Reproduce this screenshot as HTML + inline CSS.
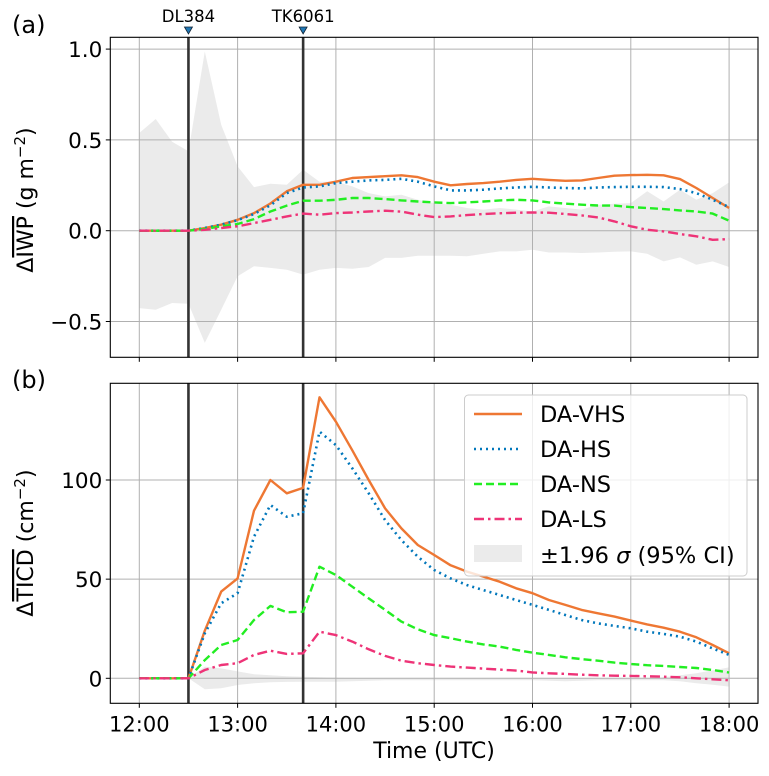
<!DOCTYPE html>
<html><head><meta charset="utf-8"><style>
html,body{margin:0;padding:0;background:#fff;}
svg text{font-family:"DejaVu Sans","Liberation Sans",sans-serif;fill:#000;}
</style></head><body>
<svg id="chart" width="769" height="771" viewBox="0 0 769 771" xmlns="http://www.w3.org/2000/svg"></svg>
<script>
const timesMin = [0,10,20,30,40,50,60,70,80,90,100,110,120,130,140,150,160,170,180,190,200,210,220,230,240,250,260,270,280,290,300,310,320,330,340,350,360];
const xTickLabels = ["12:00","13:00","14:00","15:00","16:00","17:00","18:00"];
const xTickMins = [0,60,120,180,240,300,360];
const flightNames = ["DL384","TK6061"];
const flightMins = [30,100];

const iwpVHS = [0,0,0,0,0.015,0.033,0.06,0.097,0.15,0.217,0.253,0.253,0.27,0.29,0.295,0.3,0.305,0.295,0.27,0.25,0.257,0.262,0.27,0.28,0.286,0.28,0.275,0.277,0.29,0.303,0.306,0.308,0.305,0.284,0.235,0.18,0.125];
const iwpHS = [0,0,0,0,0.015,0.033,0.058,0.092,0.14,0.207,0.238,0.244,0.262,0.27,0.277,0.28,0.286,0.27,0.244,0.222,0.222,0.226,0.233,0.238,0.242,0.238,0.235,0.233,0.238,0.24,0.242,0.242,0.24,0.229,0.207,0.17,0.13];
const iwpNS = [0,0,0,0,0.01,0.024,0.037,0.064,0.106,0.138,0.165,0.165,0.17,0.18,0.18,0.174,0.167,0.161,0.156,0.152,0.156,0.161,0.167,0.17,0.167,0.156,0.149,0.143,0.139,0.138,0.13,0.125,0.119,0.112,0.106,0.094,0.055];
const iwpLS = [0,0,0,0,0.005,0.015,0.024,0.042,0.06,0.079,0.094,0.088,0.097,0.1,0.106,0.11,0.105,0.088,0.075,0.079,0.086,0.092,0.096,0.099,0.1,0.099,0.092,0.084,0.073,0.051,0.024,0.005,-0.004,-0.018,-0.031,-0.05,-0.046];
const iwpCIup = [0.538,0.615,0.49,0.437,0.987,0.583,0.354,0.24,0.259,0.253,0.336,0.27,0.27,0.244,0.207,0.189,0.198,0.17,0.152,0.143,0.125,0.116,0.125,0.116,0.106,0.134,0.125,0.116,0.143,0.148,0.152,0.217,0.161,0.226,0.17,0.207,0.266];
const iwpCIlo = [-0.426,-0.435,-0.398,-0.402,-0.618,-0.435,-0.251,-0.196,-0.205,-0.215,-0.242,-0.215,-0.205,-0.21,-0.2,-0.15,-0.15,-0.138,-0.138,-0.138,-0.141,-0.127,-0.114,-0.114,-0.105,-0.12,-0.12,-0.123,-0.12,-0.116,-0.114,-0.127,-0.169,-0.147,-0.187,-0.169,-0.2];

const icdVHS = [0,0,0,0,24,43.7,50.4,84.5,100,93.3,96,141.7,129.4,115,100,85.7,75.6,67.2,62.2,57,53.8,51.3,48.7,45.4,42.9,39.5,37,34.5,32.8,31.1,29.1,27.2,25.5,23.5,20.7,16.8,12.6];
const icdHS = [0,0,0,0,22.7,37.8,42.9,71.4,87.4,81.5,83.2,124.4,117.6,105.9,93.3,79.8,69.7,61.3,54.6,50.4,47,44.5,42,39.5,37,34.5,31.9,29.4,27.7,26.4,25.2,23.5,22.4,21,18.5,15.1,11.8];
const icdNS = [0,0,0,0,9.2,16.8,19.3,29.4,36.5,33.3,33.6,56.3,52.1,46.2,40.3,34.5,28.6,24.7,21.8,20.2,18.5,17.1,16,14.3,12.9,11.8,10.6,9.7,8.9,7.9,7.2,6.6,6.2,5.7,5.2,4.2,2.9];
const icdLS = [0,0,0,0,4.2,6.7,7.6,11.8,13.9,12.3,12.6,23.5,21.8,18.5,14.6,11.3,8.9,7.6,6.7,5.9,5.4,4.9,4.4,3.9,3,2.5,2.2,1.8,1.5,1.3,1.2,1,0.8,0.5,0,-0.5,-1];
const icdCIup = [0,0,0,0,5.9,5,3.5,2,1.5,1,0.8,0.5,0.3,0.2,0,0,0,0,0,0,0,0,0,0,0,0,0,0,0,0,0,0,0.5,1.5,2.5,4,5.5];
const icdCIlo = [0,0,0,0,-5.5,-5,-3.4,-2.5,-2,-1.8,-1.7,-1.7,-1.7,-1.5,-1.2,-1,-1,-1,-1,-1,-1,-1,-1,-1,-1,-1.2,-1.5,-1.2,-1,-1,-1,-1,-1,-1.5,-2.5,-3.3,-4.2];

const aTicks = [-0.5,0.0,0.5,1.0];
const aTickLabels = ["\u22120.5","0.0","0.5","1.0"];
const bTicks = [0,50,100];
const bTickLabels = ["0","50","100"];
const legendLabels = ["DA-VHS","DA-HS","DA-NS","DA-LS"];

const NS="http://www.w3.org/2000/svg";
const svg=document.getElementById('chart');
function el(tag,attrs,parent){const e=document.createElementNS(NS,tag);for(const k in attrs)e.setAttribute(k,attrs[k]);(parent||svg).appendChild(e);return e;}

const L=110.3,R=758;
const xS=m=>139.3+(m/60)*98.3;
const yA=v=>230.7-v*181.6;
const yB=v=>678.3-v*1.983;
const panels=[{top:37.3,bot:357.3,y:yA,ticks:aTicks,labels:aTickLabels,name:'panel-a'},{top:383.3,bot:703.3,y:yB,ticks:bTicks,labels:bTickLabels,name:'panel-b'}];
const styles=[
 {c:'#EE7733',d:'',w:2.4},
 {c:'#0077BB',d:'2 4',w:2.6},
 {c:'#22EE22',d:'8 4',w:2.4},
 {c:'#EE3377',d:'10 4 2.5 4',w:2.4}];
const dataA=[iwpVHS,iwpHS,iwpNS,iwpLS], dataB=[icdVHS,icdHS,icdNS,icdLS];
const names=['vhs','hs','ns','ls'];

panels.forEach((p,pi)=>{
  const g=el('g',{});
  
  
  const clipId='clip'+pi;
  const cp=el('clipPath',{id:clipId},g);el('rect',{x:L,y:p.top,width:R-L,height:p.bot-p.top},cp);
  const up=pi?icdCIup:iwpCIup, lo=pi?icdCIlo:iwpCIlo;
  let d='';timesMin.forEach((t,i)=>{d+=(i?'L':'M')+xS(t).toFixed(1)+','+p.y(up[i]).toFixed(1);});
  for(let i=timesMin.length-1;i>=0;i--)d+='L'+xS(timesMin[i]).toFixed(1)+','+p.y(lo[i]).toFixed(1);
  const ci=el('path',{d:d+'Z',fill:'#ebebeb','clip-path':`url(#${clipId})`},g);
  
  
  xTickMins.forEach((m,i)=>{
    const gl=el('line',{x1:xS(m),x2:xS(m),y1:p.top,y2:p.bot,stroke:'#b0b0b0','stroke-width':1},g);
    
    
    el('line',{x1:xS(m),x2:xS(m),y1:p.bot,y2:p.bot+4.5,stroke:'#000','stroke-width':1},g);
    if(pi===1){const t=el('text',{x:xS(m),y:p.bot+28,'text-anchor':'middle','font-size':21},g);t.textContent=xTickLabels[i];
      
      }
  });
  p.ticks.forEach((v,i)=>{
    const gl=el('line',{x1:L,x2:R,y1:p.y(v),y2:p.y(v),stroke:'#b0b0b0','stroke-width':1},g);
    
    
    el('line',{x1:L-4.5,x2:L,y1:p.y(v),y2:p.y(v),stroke:'#000','stroke-width':1},g);
    const t=el('text',{x:L-8,y:p.y(v)+8,'text-anchor':'end','font-size':21.5},g);t.textContent=p.labels[i];
    
    
  });
  flightMins.forEach(m=>{
    const fl=el('line',{x1:xS(m),x2:xS(m),y1:p.top,y2:p.bot,stroke:'#333','stroke-width':2.6},g);
    
    
  });
  const data=pi?dataB:dataA;
  data.forEach((arr,si)=>{
    const s=styles[si];let dd='';
    timesMin.forEach((t,i)=>{dd+=(i?'L':'M')+xS(t).toFixed(1)+','+p.y(arr[i]).toFixed(1);});
    const ln=el('path',{d:dd,fill:'none',stroke:s.c,'stroke-width':s.w,'stroke-dasharray':s.d,'stroke-linejoin':'round','clip-path':`url(#${clipId})`},g);
    
    
  });
  const fr=el('rect',{x:L,y:p.top,width:R-L,height:p.bot-p.top,fill:'none',stroke:'#000','stroke-width':1.1},g);
  
  
});

flightMins.forEach((m,i)=>{
  const tri=el('path',{d:`M${xS(m)-4},27 L${xS(m)+4},27 L${xS(m)},34 Z`,fill:'#1f77b4',stroke:'#123','stroke-width':0.8});
  
  
  const t=el('text',{x:xS(m),y:22,'text-anchor':'middle','font-size':16.5});t.textContent=flightNames[i];
  
  
});

// legend
const lg=el('g',{});


el('rect',{x:464.5,y:395,width:282.5,height:181,rx:4,fill:'#fff','fill-opacity':0.8,stroke:'#ccc','stroke-width':1},lg);
legendLabels.forEach((lab,i)=>{
  const y=414+i*35;const s=styles[i];
  const ll=el('line',{x1:474,x2:522,y1:y,y2:y,stroke:s.c,'stroke-width':s.w,'stroke-dasharray':s.d},lg);
  
  
  const t=el('text',{x:540,y:y+8,'font-size':22.5},lg);t.textContent=lab;
  
  
});
el('rect',{x:474,y:545,width:48,height:17,fill:'#ebebeb'},lg);
const ct=el('text',{x:540,y:563,'font-size':22.5},lg);
ct.innerHTML='±1.96 <tspan font-style="italic">σ</tspan> (95% CI)';



// labels
function txt(x,y,s,str,name,extra){const t=el('text',Object.assign({x:x,y:y,'font-size':s},extra||{}));t.innerHTML=str;
  
  return t;}
txt(12,33,24,'(a)','panel-a-label');
txt(12,388,24,'(b)','panel-b-label');
txt(434,758,22,'Time (UTC)','x-axis-title',{'text-anchor':'middle'});
txt(0,0,22,'Δ<tspan text-decoration="overline">IWP</tspan> (g m<tspan dy="-8" font-size="15">−2</tspan><tspan dy="8">)</tspan>','y-axis-title-a',{'text-anchor':'middle',transform:'translate(33,200) rotate(-90)'});
txt(0,0,22,'Δ<tspan text-decoration="overline">TICD</tspan> (cm<tspan dy="-8" font-size="15">−2</tspan><tspan dy="8">)</tspan>','y-axis-title-b',{'text-anchor':'middle',transform:'translate(33,543) rotate(-90)'});
</script>
</body></html>
